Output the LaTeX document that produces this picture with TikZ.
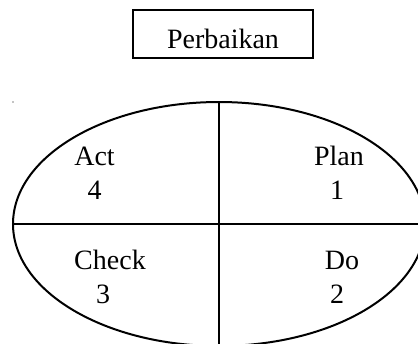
\documentclass[tikz,border=0pt]{standalone}
\usepackage{fontspec}
\setmainfont{Liberation Serif}
\usetikzlibrary{shapes.geometric, positioning}
\tikzset{
x=0.75pt, y=-0.75pt, % one unit is one pixel of the reference, y downwards
node distance=25.5pt, % distance between a phase name and its number
every node/.style={font=\fontsize{21}{25}\selectfont, inner sep=0pt},
phase/.style={line width=1.5pt, draw=black}, % the ellipse and its cross
titlebox/.style={draw=black, line width=1.5pt, minimum width=135pt, minimum height=36pt, text height=21pt, text depth=0pt},
}
\begin{document}
\begin{tikzpicture}
      \useasboundingbox (0,0) rectangle (418,343);
      \clip (0,0) rectangle (418,343);

      \node[titlebox] (fix) at (223,34) {Perbaikan};

      \node[ellipse, phase, minimum width=309pt, minimum height=183pt] (cycle) at (219,224) {};
      \draw[phase] (cycle.north) -- (cycle.south)
      (cycle.west) -- (cycle.east);

      \node (act) at (94.5,156) {Act};
      \node[below of=act] (4) {4};
      \node (plan) at (339,156) {Plan};
      \node[below of=plan, xshift=-1.5pt] (1) {1};
      \node (check) at (110,260) {Check};
      \node[below of=check, xshift=-5.25pt] (3) {3};
      \node (do) at (342,260) {Do};
      \node[below of=do, xshift=-3.75pt] (2) {2};

      \fill (13,102) circle (0.6);
    \end{tikzpicture}
\end{document}
